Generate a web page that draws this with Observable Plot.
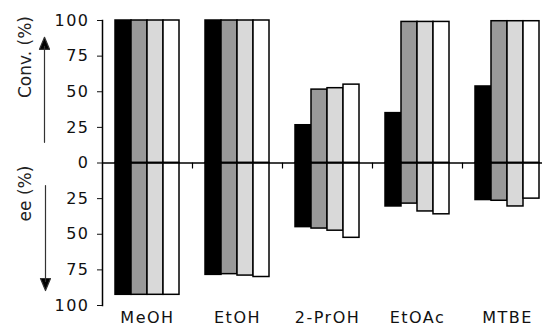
<!DOCTYPE html>
<html>
<head>
<meta charset="utf-8">
<script src="https://cdn.jsdelivr.net/npm/d3@7"></script>
<script src="https://cdn.jsdelivr.net/npm/@observablehq/plot@0.6"></script>
<style>
  html, body { margin: 0; padding: 0; background: #fff; }
  #chart svg { display: block; }
  #chart [aria-label="y-axis tick label"] text,
  #chart [aria-label="fx-axis tick label"] text { letter-spacing: 1.5px; }
</style>
</head>
<body>
<div id="chart"></div>
<script>
// Categories and series
const solvents = ["MeOH", "EtOH", "2-PrOH", "EtOAc", "MTBE"];
const series = ["1", "2", "3", "4"];
const seriesColors = ["#000000", "#999999", "#d9d9d9", "#ffffff"];

// Conversion (%) per series, one value per solvent
const conv1 = [100, 100, 26.5, 35, 53.7];
const conv2 = [100, 100, 51.5, 99, 99.5];
const conv3 = [100, 100, 52.5, 99, 99.5];
const conv4 = [100, 100, 55, 99, 99.5];

// ee (%) per series, one value per solvent
const ee1 = [92.5, 78.5, 45, 30.5, 26];
const ee2 = [92.5, 78, 46, 28.5, 26.5];
const ee3 = [92.5, 79, 47.5, 34, 30.5];
const ee4 = [92.5, 80, 52.5, 36, 25];

// Tick labels and axis titles
const yTicks = [-100, -75, -50, -25, 0, 25, 50, 75, 100];
const convTitle = "Conv. (%)";
const eeTitle = "ee (%)";

const convAll = [conv1, conv2, conv3, conv4];
const eeAll = [ee1, ee2, ee3, ee4];
const rows = [];
solvents.forEach((s, i) => series.forEach((k, j) => {
  rows.push({solvent: s, series: k, conv: convAll[j][i], ee: eeAll[j][i]});
}));

const arrowShape = {
  draw(ctx, l) {
    ctx.moveTo(0, 0);
    ctx.lineTo(0, -l + 9);
    ctx.moveTo(-5, -l + 12);
    ctx.lineTo(0, -l);
    ctx.lineTo(5, -l + 12);
    ctx.closePath();
  }
};
const lineShape = {
  draw(ctx, l) { ctx.moveTo(0, 0); ctx.lineTo(0, -l); }
};

const first = [solvents[0]];

const plot = Plot.plot({
  width: 542,
  height: 326,
  marginTop: 20,
  marginBottom: 21,
  marginLeft: 100,
  marginRight: 0,
  style: {fontFamily: "'DejaVu Sans', sans-serif", fontSize: "16px", color: "#111", background: "#fff"},
  fx: {domain: solvents, range: [100, 554], paddingInner: 0, paddingOuter: 0, axis: null},
  x: {domain: series, paddingInner: 0, paddingOuter: 0.67, axis: null},
  y: {domain: [-100, 100], axis: null},
  color: {domain: series, range: seriesColors},
  marks: [
    Plot.barY(rows, {fx: "solvent", x: "series", y: "conv", fill: "series", stroke: "#000", strokeWidth: 1.5}),
    Plot.barY(rows, {fx: "solvent", x: "series", y: d => -d.ee, fill: "series", stroke: "#000", strokeWidth: 1.5}),
    Plot.ruleY([0], {stroke: "#000", strokeWidth: 1.5}),
    Plot.vector(solvents, {fx: d => d, frameAnchor: "right", y: 0, length: 5, rotate: 180, anchor: "start", shape: lineShape, stroke: "#000", strokeWidth: 1.2}),
    Plot.frame({anchor: "left", facet: "super", stroke: "#000", strokeWidth: 1.5}),
    Plot.axisY({ticks: yTicks, tickFormat: d => Math.abs(d), tickSize: 5, tickPadding: 8, label: null, fontSize: 16}),
    Plot.axisFx({anchor: "bottom", tickSize: 0, tickPadding: 6, label: null, fontSize: 16}),
    Plot.vector(first, {fx: d => d, frameAnchor: "left", dx: -58, y: 14.5, length: 105, rotate: 0, anchor: "start", shape: arrowShape, fill: "#000", stroke: "#333", strokeWidth: 1.2}),
    Plot.vector(first, {fx: d => d, frameAnchor: "left", dx: -57, y: -15.8, length: 105, rotate: 180, anchor: "start", shape: arrowShape, fill: "#000", stroke: "#333", strokeWidth: 1.2}),
    Plot.text(first, {fx: d => d, frameAnchor: "left", dx: -77, y: 45.6, text: () => convTitle, rotate: -90, fontSize: 17, fill: "#222", ariaLabel: "ylabel"}),
    Plot.text(first, {fx: d => d, frameAnchor: "left", dx: -77, y: -41, text: () => eeTitle, rotate: -90, fontSize: 17, fill: "#222", ariaLabel: "ylabel"})
  ]
});

// Italicise "ee" in the lower axis title
d3.select(plot).selectAll('[aria-label="ylabel"] text').each(function() {
  const t = d3.select(this);
  if (t.text() === eeTitle) {
    t.text(null);
    t.append("tspan").attr("font-style", "italic").text("ee");
    t.append("tspan").text(" (%)");
  }
});

document.getElementById("chart").appendChild(plot);
</script>
</body>
</html>
